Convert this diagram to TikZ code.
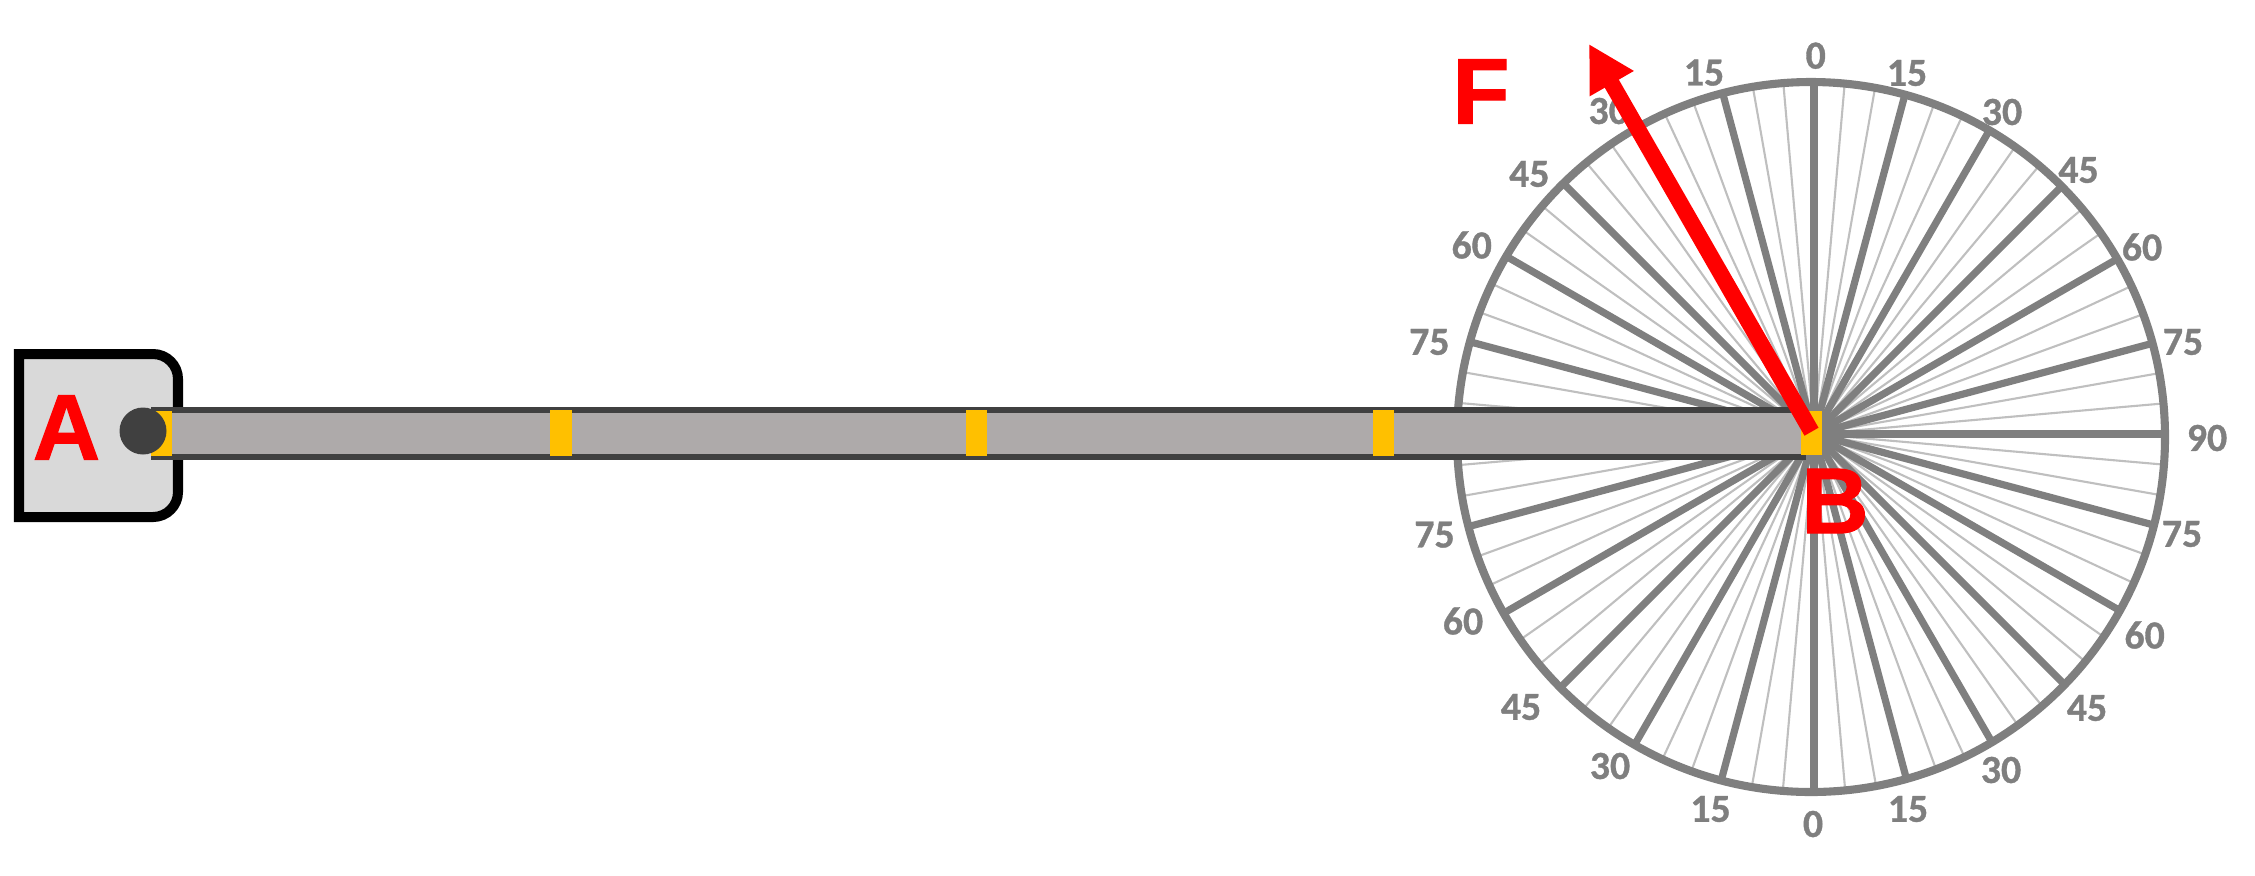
\documentclass[tikz,border=0pt]{standalone}
\usepackage{fontspec}
\setmainfont{Liberation Sans}
\newfontfamily\degreefont[FakeBold=0.9]{Carlito Bold}
\newfontfamily\letterfont[FakeBold=1.2]{Liberation Sans Bold}
\usetikzlibrary{arrows.meta}
\definecolor{ringgray}{HTML}{7F7F7F}
\definecolor{finegray}{HTML}{BFBFBF}
\definecolor{supportgray}{HTML}{D9D9D9}
\definecolor{beamgray}{HTML}{AEAAAA}
\definecolor{edgegray}{HTML}{404040}
\definecolor{jointgold}{HTML}{FFC000}
\tikzset{
  major/.style={draw=ringgray,line width=2.05pt},
  minor/.style={draw=finegray,line width=0.6pt},
  ring/.style={draw=ringgray,line width=2.3pt},
  degree/.style={text=ringgray,font=\degreefont\fontsize{11.3}{11.3}\selectfont,inner sep=0pt},
  letter/.style={text=red,font=\letterfont\fontsize{26.5}{26.5}\selectfont,inner sep=0pt},
  joint/.style={fill=jointgold},
  beamedge/.style={draw=edgegray,line width=1.5pt}
}
\begin{document}
\begin{tikzpicture}[x=0.01cm,y=-0.01cm]
          \useasboundingbox (0,0) rectangle (2255,875);
          \coordinate (hub) at (1814,434);
          \coordinate (pin) at (143,431);
          \coordinate (forcetail) at (1811.5,431.7);
          \coordinate (forcetip) at (1589,44);
          \begin{scope}
            \clip (1811,437) ellipse [x radius=354,y radius=355];
            % fine divisions
            \draw[minor] (hub) -- +(5:500);
            \draw[minor] (hub) -- +(10:500);
            \draw[minor] (hub) -- +(20:500);
            \draw[minor] (hub) -- +(25:500);
            \draw[minor] (hub) -- +(35:500);
            \draw[minor] (hub) -- +(40:500);
            \draw[minor] (hub) -- +(50:500);
            \draw[minor] (hub) -- +(55:500);
            \draw[minor] (hub) -- +(65:500);
            \draw[minor] (hub) -- +(70:500);
            \draw[minor] (hub) -- +(80:500);
            \draw[minor] (hub) -- +(85:500);
            \draw[minor] (hub) -- +(95:500);
            \draw[minor] (hub) -- +(100:500);
            \draw[minor] (hub) -- +(110:500);
            \draw[minor] (hub) -- +(115:500);
            \draw[minor] (hub) -- +(125:500);
            \draw[minor] (hub) -- +(130:500);
            \draw[minor] (hub) -- +(140:500);
            \draw[minor] (hub) -- +(145:500);
            \draw[minor] (hub) -- +(155:500);
            \draw[minor] (hub) -- +(160:500);
            \draw[minor] (hub) -- +(170:500);
            \draw[minor] (hub) -- +(175:500);
            \draw[minor] (hub) -- +(185:500);
            \draw[minor] (hub) -- +(190:500);
            \draw[minor] (hub) -- +(200:500);
            \draw[minor] (hub) -- +(205:500);
            \draw[minor] (hub) -- +(215:500);
            \draw[minor] (hub) -- +(220:500);
            \draw[minor] (hub) -- +(230:500);
            \draw[minor] (hub) -- +(235:500);
            \draw[minor] (hub) -- +(245:500);
            \draw[minor] (hub) -- +(250:500);
            \draw[minor] (hub) -- +(260:500);
            \draw[minor] (hub) -- +(265:500);
            \draw[minor] (hub) -- +(275:500);
            \draw[minor] (hub) -- +(280:500);
            \draw[minor] (hub) -- +(290:500);
            \draw[minor] (hub) -- +(295:500);
            \draw[minor] (hub) -- +(305:500);
            \draw[minor] (hub) -- +(310:500);
            \draw[minor] (hub) -- +(320:500);
            \draw[minor] (hub) -- +(325:500);
            \draw[minor] (hub) -- +(335:500);
            \draw[minor] (hub) -- +(340:500);
            \draw[minor] (hub) -- +(350:500);
            \draw[minor] (hub) -- +(355:500);
            % main divisions
            \draw[major] (hub) -- +(0:500);
            \draw[major] (hub) -- +(15:500);
            \draw[major] (hub) -- +(30:500);
            \draw[major] (hub) -- +(45:500);
            \draw[major] (hub) -- +(60:500);
            \draw[major] (hub) -- +(75:500);
            \draw[major] (hub) -- +(90:500);
            \draw[major] (hub) -- +(105:500);
            \draw[major] (hub) -- +(120:500);
            \draw[major] (hub) -- +(135:500);
            \draw[major] (hub) -- +(150:500);
            \draw[major] (hub) -- +(165:500);
            \draw[major] (hub) -- +(195:500);
            \draw[major] (hub) -- +(210:500);
            \draw[major] (hub) -- +(225:500);
            \draw[major] (hub) -- +(240:500);
            \draw[major] (hub) -- +(255:500);
            \draw[major] (hub) -- +(270:500);
            \draw[major] (hub) -- +(285:500);
            \draw[major] (hub) -- +(300:500);
            \draw[major] (hub) -- +(315:500);
            \draw[major] (hub) -- +(330:500);
            \draw[major] (hub) -- +(345:500);
          \end{scope}
          % ring
          \draw[ring] (1811,437) ellipse [x radius=354,y radius=355];
          % support
          \draw[draw=black,fill=supportgray,line width=2.85pt] (19,354) -- (153,354) arc [start angle=-90,end angle=0,radius=25] -- (178,492) arc [start angle=0,end angle=90,radius=25] -- (19,517) -- cycle;
          % beam
          \fill[beamgray] (151,410) rectangle (1806,457);
          \draw[beamedge] (151,410) -- (1806,410);
          \draw[beamedge] (151,457) -- (1806,457);
          % joints
          \fill[joint] (151,411) rectangle (172,456);
          \fill[joint] (550,410) rectangle (572,456);
          \fill[joint] (966,410) rectangle (987,456);
          \fill[joint] (1373,410) rectangle (1394,456);
          \fill[joint] (1801,411) rectangle (1822,455);
          \fill[edgegray] (pin) circle [radius=23.5];
          % degrees
          \node[degree] (top0) at (1815.7,55.7) {0};
          \node[degree] (topr15) at (1907,73) {15};
          \node[degree] (topr30) at (2002,112) {30};
          \node[degree] (topr45) at (2078.5,170) {45};
          \node[degree] (topr60) at (2142,247) {60};
          \node[degree] (topr75) at (2183,342) {75};
          \node[degree] (right90) at (2207,438) {90};
          \node[degree] (botr75) at (2182,534) {75};
          \node[degree] (botr60) at (2144.6,635) {60};
          \node[degree] (botr45) at (2087,708) {45};
          \node[degree] (botr30) at (2001,770) {30};
          \node[degree] (botr15) at (1908,809) {15};
          \node[degree] (bot0) at (1813,824) {0};
          \node[degree] (botl15) at (1710.5,809) {15};
          \node[degree] (botl30) at (1610,766) {30};
          \node[degree] (botl45) at (1521,707) {45};
          \node[degree] (botl60) at (1463,621) {60};
          \node[degree] (botl75) at (1434.5,534.7) {75};
          \node[degree] (topl75) at (1429.3,342) {75};
          \node[degree] (topl60) at (1471.7,245) {60};
          \node[degree] (topl45) at (1529.3,174) {45};
          \node[degree] (topl30) at (1608.7,111) {30};
          \node[degree] (topl15) at (1704,72.7) {15};
          % force
          \draw[-{Triangle[length=13pt,width=13.5pt]},red,line width=4.6pt] (forcetail) -- (forcetip);
          \node[letter] (labelA) at (66.5,427.5) {A};
          \node[letter] (labelF) at (1481,91.5) {F};
          \node[letter] (labelB) at (1835,501) {B};
        \end{tikzpicture}
\end{document}
